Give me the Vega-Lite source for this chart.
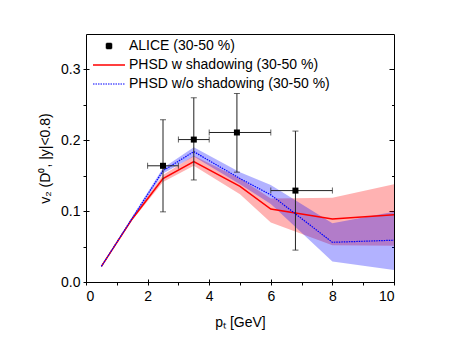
{
  "$schema": "https://vega.github.io/schema/vega-lite/v6.json",
  "width": 308,
  "height": 248,
  "autosize": {"type": "none"},
  "padding": {"left": 86, "top": 34, "right": 58, "bottom": 64},
  "background": "white",
  "config": {
    "view": {"stroke": "black", "strokeWidth": 1},
    "font": "Liberation Sans",
    "axis": {"labelFont": "Liberation Sans", "titleFont": "Liberation Sans", "labelFontSize": 14, "titleFontSize": 14, "labelColor": "black", "titleColor": "black", "tickColor": "black", "domain": false, "grid": false, "titleFontWeight": "normal"}
  },
  "datasets": {
    "models": [
      {"series": "PHSD w shadowing (30-50 %)", "pt": 0.5, "v2": 0.022, "lo": 0.021, "hi": 0.023},
      {"series": "PHSD w shadowing (30-50 %)", "pt": 1.5, "v2": 0.089, "lo": 0.087, "hi": 0.091},
      {"series": "PHSD w shadowing (30-50 %)", "pt": 2.5, "v2": 0.146, "lo": 0.141, "hi": 0.151},
      {"series": "PHSD w shadowing (30-50 %)", "pt": 3.5, "v2": 0.170, "lo": 0.164, "hi": 0.178},
      {"series": "PHSD w shadowing (30-50 %)", "pt": 5, "v2": 0.135, "lo": 0.124, "hi": 0.146},
      {"series": "PHSD w shadowing (30-50 %)", "pt": 6, "v2": 0.103, "lo": 0.084, "hi": 0.118},
      {"series": "PHSD w shadowing (30-50 %)", "pt": 8, "v2": 0.089, "lo": 0.052, "hi": 0.119},
      {"series": "PHSD w shadowing (30-50 %)", "pt": 10, "v2": 0.095, "lo": 0.051, "hi": 0.138},
      {"series": "PHSD w/o shadowing (30-50 %)", "pt": 0.5, "v2": 0.022, "lo": 0.021, "hi": 0.023},
      {"series": "PHSD w/o shadowing (30-50 %)", "pt": 1.5, "v2": 0.090, "lo": 0.088, "hi": 0.092},
      {"series": "PHSD w/o shadowing (30-50 %)", "pt": 2.5, "v2": 0.157, "lo": 0.153, "hi": 0.161},
      {"series": "PHSD w/o shadowing (30-50 %)", "pt": 3.5, "v2": 0.184, "lo": 0.177, "hi": 0.190},
      {"series": "PHSD w/o shadowing (30-50 %)", "pt": 5, "v2": 0.146, "lo": 0.138, "hi": 0.155},
      {"series": "PHSD w/o shadowing (30-50 %)", "pt": 6, "v2": 0.123, "lo": 0.110, "hi": 0.137},
      {"series": "PHSD w/o shadowing (30-50 %)", "pt": 8, "v2": 0.056, "lo": 0.029, "hi": 0.083},
      {"series": "PHSD w/o shadowing (30-50 %)", "pt": 10, "v2": 0.059, "lo": 0.017, "hi": 0.099}
    ],
    "alice": [
      {"series": "ALICE (30-50 %)", "pt": 2.5, "ptlo": 2, "pthi": 3, "v2": 0.164, "lo": 0.099, "hi": 0.229},
      {"series": "ALICE (30-50 %)", "pt": 3.5, "ptlo": 3, "pthi": 4, "v2": 0.201, "lo": 0.144, "hi": 0.260},
      {"series": "ALICE (30-50 %)", "pt": 4.9, "ptlo": 4, "pthi": 6, "v2": 0.211, "lo": 0.155, "hi": 0.266},
      {"series": "ALICE (30-50 %)", "pt": 6.8, "ptlo": 6, "pthi": 8, "v2": 0.129, "lo": 0.045, "hi": 0.213}
    ]
  },
  "layer": [
    {
      "layer": [
        {
          "data": {"name": "models"},
          "transform": [{"filter": "datum.series === 'PHSD w shadowing (30-50 %)'"}],
          "mark": {"type": "area", "color": "#ff0000", "opacity": 0.3},
          "encoding": {
            "x": {"field": "pt", "type": "quantitative", "title": "pₜ [GeV]", "scale": {"domain": [0, 10], "nice": false, "zero": false},
                  "axis": {"orient": "bottom", "values": [0, 2, 4, 6, 8, 10], "title": "pₜ [GeV]", "tickSize": 6, "offset": -3, "labelPadding": 4, "titlePadding": 12}},
            "y": {"field": "lo", "type": "quantitative", "title": "v₂ (D⁰, |y|<0.8)", "scale": {"domain": [0, 0.35], "nice": false},
                  "axis": {"orient": "left", "values": [0, 0.1, 0.2, 0.3], "format": ".1f", "title": "v₂ (D⁰, |y|<0.8)", "tickSize": 6, "offset": -3, "labelPadding": 3, "titlePadding": 8}},
            "y2": {"field": "hi", "title": "v₂ (D⁰, |y|<0.8)"}
          }
        },
        {
          "data": {"name": "models"},
          "transform": [{"filter": "datum.series === 'PHSD w/o shadowing (30-50 %)'"}],
          "mark": {"type": "area", "color": "#0000ff", "opacity": 0.3},
          "encoding": {
            "x": {"field": "pt", "type": "quantitative", "title": "pₜ [GeV]"},
            "y": {"field": "lo", "type": "quantitative", "title": "v₂ (D⁰, |y|<0.8)"},
            "y2": {"field": "hi", "title": "v₂ (D⁰, |y|<0.8)"}
          }
        },
        {
          "data": {"name": "models"},
          "transform": [{"filter": "datum.series === 'PHSD w shadowing (30-50 %)'"}],
          "mark": {"type": "line", "strokeWidth": 1.5},
          "encoding": {
            "x": {"field": "pt", "type": "quantitative", "title": "pₜ [GeV]"},
            "y": {"field": "v2", "type": "quantitative", "title": "v₂ (D⁰, |y|<0.8)"},
            "color": {"field": "series", "type": "nominal",
              "scale": {"domain": ["ALICE (30-50 %)", "PHSD w shadowing (30-50 %)", "PHSD w/o shadowing (30-50 %)"], "range": ["#000000", "#ff0000", "#0000ff"]},
              "legend": {
                "title": null, "orient": "none", "legendX": 16, "legendY": 5, "padding": 0,
                "labelFont": "Liberation Sans", "labelFontSize": 14, "labelColor": "black", "labelOffset": 13, "labelLimit": 400,
                "symbolSize": 100, "rowPadding": 5, "symbolStrokeWidth": 1.5,
                "encode": {"symbols": {"update": {
                  "shape": {"signal": "datum.value === 'ALICE (30-50 %)' ? 'M-0.5,-0.5H0.5V0.5H-0.5Z' : 'M-3.2,0H3.2'"},
                  "fill": {"signal": "datum.value === 'ALICE (30-50 %)' ? 'black' : 'transparent'"},
                  "stroke": {"signal": "datum.value === 'ALICE (30-50 %)' ? 'transparent' : (datum.value === 'PHSD w shadowing (30-50 %)' ? '#ff0000' : '#0000ff')"},
                  "strokeDash": {"signal": "datum.value === 'PHSD w/o shadowing (30-50 %)' ? [1.5, 1] : [1, 0]"},
                  "strokeWidth": {"signal": "datum.value === 'PHSD w/o shadowing (30-50 %)' ? 1.2 : 1.5"},
                  "opacity": {"value": 1}
                }}}
              }
            }
          }
        },
        {
          "data": {"name": "models"},
          "transform": [{"filter": "datum.series === 'PHSD w/o shadowing (30-50 %)'"}],
          "mark": {"type": "line", "strokeWidth": 1.2, "strokeDash": [1.5, 1]},
          "encoding": {
            "x": {"field": "pt", "type": "quantitative", "title": "pₜ [GeV]"},
            "y": {"field": "v2", "type": "quantitative", "title": "v₂ (D⁰, |y|<0.8)"},
            "color": {"field": "series", "type": "nominal"}
          }
        },
        {
          "data": {"name": "alice"},
          "mark": {"type": "errorbar", "ticks": {"size": 6, "color": "#222222"}, "rule": {"color": "#222222", "strokeWidth": 1}},
          "encoding": {
            "x": {"field": "pt", "type": "quantitative", "title": "pₜ [GeV]"},
            "y": {"field": "lo", "type": "quantitative", "title": "v₂ (D⁰, |y|<0.8)"},
            "y2": {"field": "hi", "title": "v₂ (D⁰, |y|<0.8)"}
          }
        },
        {
          "data": {"name": "alice"},
          "mark": {"type": "errorbar", "ticks": {"size": 6, "color": "#222222"}, "rule": {"color": "#222222", "strokeWidth": 1}},
          "encoding": {
            "y": {"field": "v2", "type": "quantitative", "title": "v₂ (D⁰, |y|<0.8)"},
            "x": {"field": "ptlo", "type": "quantitative", "title": "pₜ [GeV]"},
            "x2": {"field": "pthi", "title": "pₜ [GeV]"}
          }
        },
        {
          "data": {"name": "alice"},
          "mark": {"type": "point", "shape": "square", "filled": true, "size": 36, "opacity": 1},
          "encoding": {
            "x": {"field": "pt", "type": "quantitative", "title": "pₜ [GeV]"},
            "y": {"field": "v2", "type": "quantitative", "title": "v₂ (D⁰, |y|<0.8)"},
            "color": {"field": "series", "type": "nominal"}
          }
        }
      ]
    },
    {
      "data": {"name": "alice"},
      "mark": {"type": "point", "opacity": 0},
      "encoding": {
        "x": {"field": "pt", "type": "quantitative", "axis": {"orient": "bottom", "values": [1, 3, 5, 7, 9], "labels": false, "title": null, "tickSize": 3}},
        "y": {"field": "v2", "type": "quantitative", "axis": {"orient": "left", "values": [0.05, 0.15, 0.25], "labels": false, "title": null, "tickSize": 3}}
      }
    },
    {
      "data": {"name": "alice"},
      "mark": {"type": "point", "opacity": 0},
      "encoding": {
        "x": {"field": "pt", "type": "quantitative", "axis": null},
        "y": {"field": "v2", "type": "quantitative", "axis": {"orient": "right", "values": [0.1, 0.2, 0.3], "labels": false, "title": null, "tickSize": 5, "offset": -5}}
      }
    },
    {
      "data": {"name": "alice"},
      "mark": {"type": "point", "opacity": 0},
      "encoding": {
        "x": {"field": "pt", "type": "quantitative", "axis": null},
        "y": {"field": "v2", "type": "quantitative", "axis": {"orient": "right", "values": [0.05, 0.15, 0.25], "labels": false, "title": null, "tickSize": 2.5, "offset": -2.5}}
      }
    }
  ],
  "resolve": {"axis": {"x": "independent", "y": "independent"}}
}
